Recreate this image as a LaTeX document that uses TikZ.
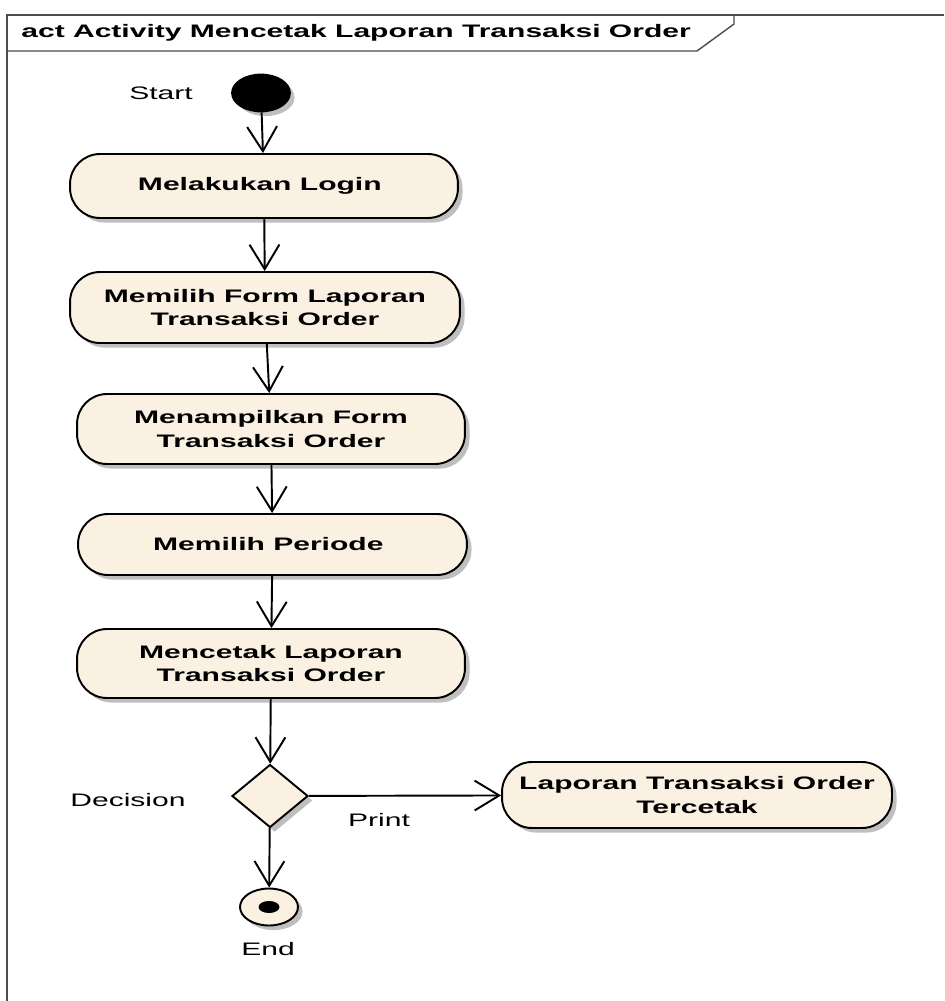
\documentclass[tikz,border=0pt]{standalone}
\usepackage{fontspec}
\newfontfamily\umlfont[FakeStretch=1.66]{Liberation Sans}
\usetikzlibrary{shapes.geometric,arrows.meta,shadows}
\definecolor{umlfill}{RGB}{251,241,226}
\tikzset{
    umlshadow/.style={drop shadow={shadow xshift=2.6pt,shadow yshift=-2.6pt,fill=black!25,opacity=1}},
    action/.style={draw,line width=1.1pt,fill=umlfill,rounded corners=0.6cm,umlshadow,
        align=center,inner sep=0pt,font=\umlfont\bfseries\fontsize{10.3}{13.6}\selectfont},
    decision/.style={diamond,draw,line width=1.1pt,fill=umlfill,umlshadow,inner sep=0pt},
    umltext/.style={font=\umlfont\fontsize{10.3}{13.6}\selectfont},
    flow/.style={-{Straight Barb[length=14pt,width=17pt]},line width=1.1pt},
    frameline/.style={draw=black!70,line width=0.8pt}
}
\begin{document}
\begin{tikzpicture}[x=0.02cm,y=-0.02cm]
            \useasboundingbox (0,0) rectangle (944,1001);
            % frame
            \draw[frameline] (7,1001) -- (7,15) -- (944,15);
            \draw[frameline] (7,51) -- (697,51) -- (734,24) -- (734,15);
            \node[anchor=west,inner sep=0pt,font=\umlfont\bfseries\fontsize{10.3}{13}\selectfont] (title) at (21,33) {
                act Activity Mencetak Laporan Transaksi Order
            };
            % start
            \node[ellipse,fill=black,draw,line width=1pt,minimum width=1.16cm,minimum height=0.74cm,inner sep=0pt,umlshadow] (start) at (261,93) {};
            \node[umltext] (startlbl) at (161,93) {
                Start
            };
            % actions
            \node[action,minimum width=7.76cm,minimum height=1.28cm] (login) at (264,186) {
                Melakukan Login
            };
            \node[action,minimum width=7.8cm,minimum height=1.42cm] (form) at (265,307.5) {
                Memilih Form Laporan\\Transaksi Order
            };
            \node[action,minimum width=7.76cm,minimum height=1.4cm] (tampil) at (271,429) {
                Menampilkan Form\\Transaksi Order
            };
            \node[action,minimum width=7.78cm,minimum height=1.22cm] (periode) at (272.5,544.5) {
                Memilih Periode
            };
            \node[action,minimum width=7.76cm,minimum height=1.38cm] (cetak) at (271,663.5) {
                Mencetak Laporan\\Transaksi Order
            };
            % decision
            \node[decision,minimum width=1.52cm,minimum height=1.26cm] (choice) at (270,796) {};
            \node[umltext] (choicelbl) at (128,800) {
                Decision
            };
            \node[action,minimum width=7.8cm,minimum height=1.32cm] (hasil) at (697,795) {
                Laporan Transaksi Order\\Tercetak
            };
            \node[umltext] (printlbl) at (379,820) {
                Print
            };
            % end
            \node[ellipse,fill=umlfill,draw,line width=1.1pt,minimum width=1.16cm,minimum height=0.74cm,inner sep=0pt,umlshadow] (finish) at (269,907) {};
            \node[ellipse,fill=black,minimum width=0.42cm,minimum height=0.24cm,inner sep=0pt] (finishdot) at (finish.center) {};
            \node[umltext] (finishlbl) at (268,949) {
                End
            };
            % flows
            \draw[flow] (start) -- (login);
            \draw[flow] (login) -- (form);
            \draw[flow] (form) -- (tampil);
            \draw[flow] (tampil) -- (periode);
            \draw[flow] (periode) -- (cetak);
            \draw[flow] (cetak) -- (choice);
            \draw[flow] (choice) -- (hasil);
            \draw[flow] (choice) -- (finish);
\end{tikzpicture}
\end{document}
